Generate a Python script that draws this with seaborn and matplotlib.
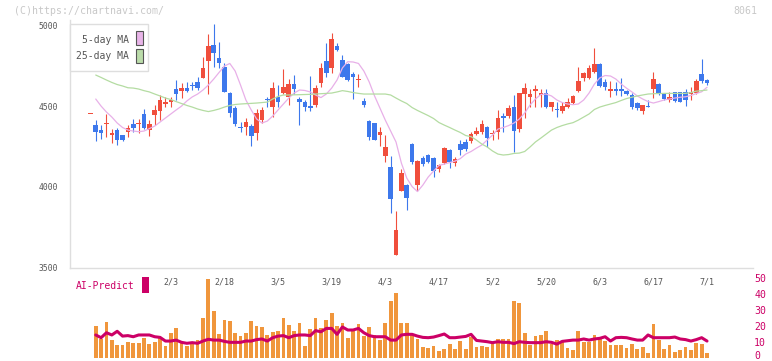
import numpy as np
import pandas as pd
import seaborn as sns
import matplotlib.pyplot as plt
import matplotlib.transforms as mtransforms
from matplotlib.patches import Rectangle

sns.set_style('white')
plt.rcParams['font.family'] = ['DejaVu Sans Mono', 'DejaVu Sans']

# trading-day index, 0 = 2/3
day = np.arange(-15, 101)

open_ = [4453, 4384, 4353, 4392, 4322, 4353, 4322, 4343, 4391, 4392, 4453, 4353, 4447, 4473, 4515,
         4525, 4608, 4596, 4616, 4631, 4654, 4679, 4784, 4882, 4803, 4747, 4585, 4492, 4372, 4370,
         4378, 4337, 4415, 4546, 4498, 4560, 4581, 4560, 4639, 4546, 4525, 4502, 4509, 4647, 4782,
         4737, 4876, 4789, 4764, 4702, 4662, 4534, 4409, 4397, 4322, 4191, 4125, 3576, 3976, 4011,
         4266, 4011, 4177, 4198, 4177, 4109, 4146, 4229, 4146, 4266, 4280, 4287, 4328, 4343, 4374,
         4326, 4343, 4440, 4440, 4498, 4360, 4577, 4560, 4598, 4573, 4585, 4498, 4484, 4473, 4498,
         4523, 4598, 4679, 4679, 4716, 4764, 4654, 4598, 4608, 4608, 4596, 4571, 4519, 4473, 4504,
         4606, 4639, 4581, 4540, 4588, 4588, 4592, 4580, 4581, 4702, 4664]
high = [4453, 4415, 4384, 4453, 4358, 4364, 4325, 4384, 4422, 4422, 4484, 4415, 4509, 4571, 4560,
        4560, 4664, 4643, 4650, 4654, 4685, 4809, 4950, 5012, 4902, 4770, 4590, 4500, 4401, 4430,
        4390, 4482, 4498, 4560, 4654, 4633, 4731, 4668, 4695, 4556, 4540, 4689, 4633, 4768, 4896,
        4959, 4896, 4820, 4770, 4716, 4702, 4550, 4415, 4400, 4374, 4322, 4191, 3849, 4111, 4015,
        4270, 4165, 4190, 4205, 4185, 4140, 4245, 4235, 4185, 4291, 4295, 4340, 4374, 4415, 4380,
        4353, 4478, 4459, 4509, 4571, 4583, 4644, 4606, 4633, 4606, 4606, 4529, 4529, 4529, 4550,
        4570, 4747, 4715, 4758, 4865, 4768, 4670, 4658, 4650, 4675, 4600, 4583, 4525, 4509, 4540,
        4716, 4645, 4585, 4590, 4592, 4592, 4610, 4620, 4668, 4795, 4670]
low = [4453, 4287, 4295, 4312, 4274, 4260, 4288, 4312, 4343, 4333, 4360, 4318, 4384, 4415, 4498,
       4498, 4540, 4550, 4590, 4602, 4602, 4675, 4577, 4747, 4737, 4588, 4436, 4380, 4339, 4322,
       4254, 4291, 4400, 4498, 4436, 4498, 4575, 4509, 4577, 4384, 4473, 4473, 4498, 4623, 4681,
       4706, 4845, 4680, 4655, 4546, 4619, 4498, 4290, 4291, 4256, 4156, 3835, 3576, 3976, 3856,
       4140, 3974, 4129, 4150, 4063, 4090, 4140, 4120, 4130, 4198, 4224, 4270, 4320, 4330, 4249,
       4291, 4300, 4343, 4430, 4218, 4343, 4428, 4498, 4498, 4498, 4490, 4470, 4432, 4460, 4490,
       4515, 4590, 4656, 4670, 4710, 4620, 4600, 4560, 4570, 4565, 4570, 4484, 4480, 4453, 4495,
       4550, 4570, 4540, 4530, 4530, 4525, 4505, 4540, 4575, 4648, 4633]
close = [4453, 4343, 4337, 4398, 4333, 4291, 4291, 4368, 4364, 4398, 4368, 4391, 4478, 4540, 4525,
         4540, 4577, 4616, 4596, 4627, 4616, 4741, 4876, 4834, 4768, 4591, 4457, 4391, 4368, 4405,
         4318, 4461, 4478, 4542, 4616, 4529, 4623, 4639, 4608, 4525, 4494, 4488, 4613, 4741, 4710,
         4919, 4851, 4685, 4664, 4685, 4668, 4509, 4312, 4291, 4341, 4249, 3924, 3731, 4088, 3928,
         4156, 4160, 4140, 4156, 4098, 4135, 4239, 4156, 4171, 4229, 4235, 4326, 4347, 4391, 4301,
         4332, 4430, 4430, 4492, 4349, 4581, 4612, 4577, 4608, 4581, 4498, 4529, 4478, 4502, 4529,
         4565, 4660, 4710, 4737, 4764, 4627, 4623, 4608, 4598, 4598, 4577, 4498, 4488, 4509, 4498,
         4668, 4581, 4546, 4560, 4535, 4529, 4540, 4583, 4658, 4658, 4644]

ma5 = [np.nan, 4546, 4502, 4465, 4434, 4397, 4369, 4353, 4347, 4343, 4347, 4362, 4378, 4403, 4428,
       4453, 4478, 4502, 4534, 4559, 4577, 4602, 4633, 4670, 4711, 4751, 4767, 4720, 4633, 4540,
       4478, 4422, 4397, 4409, 4440, 4478, 4515, 4552, 4583, 4602, 4599, 4590, 4571, 4555, 4577,
       4614, 4664, 4739, 4778, 4776, 4767, 4720, 4652, 4565, 4490, 4415, 4347, 4279, 4148, 4055,
       4002, 3971, 4011, 4061, 4098, 4133, 4142, 4151, 4160, 4176, 4204, 4220, 4241, 4260, 4291,
       4322, 4359, 4369, 4381, 4397, 4422, 4459, 4509, 4546, 4574, 4577, 4565, 4540, 4524, 4515,
       4511, 4515, 4540, 4583, 4639, 4677, 4692, 4689, 4670, 4639, 4613, 4590, 4565, 4546, 4530,
       4521, 4530, 4540, 4546, 4552, 4557, 4560, 4568, 4580, 4591, 4619]
ma25 = [np.nan, 4695, 4680, 4664, 4649, 4636, 4627, 4616, 4614, 4608, 4598, 4590, 4577, 4565, 4552,
        4543, 4530, 4518, 4506, 4496, 4484, 4475, 4468, 4475, 4484, 4496, 4506, 4512, 4515, 4517,
        4519, 4521, 4524, 4527, 4546, 4562, 4571, 4571, 4572, 4573, 4574, 4575, 4577, 4579, 4581,
        4583, 4590, 4598, 4593, 4586, 4581, 4577, 4577, 4577, 4577, 4577, 4571, 4552, 4534, 4518,
        4493, 4475, 4459, 4443, 4425, 4400, 4384, 4369, 4353, 4338, 4319, 4312, 4291, 4266, 4248,
        4223, 4204, 4198, 4201, 4208, 4210, 4220, 4248, 4279, 4303, 4328, 4353, 4369, 4381, 4391,
        4399, 4415, 4434, 4453, 4481, 4496, 4506, 4515, 4524, 4537, 4549, 4557, 4565, 4571, 4577,
        4579, 4580, 4581, 4581, 4581, 4581, 4581, 4586, 4595, 4598, 4602]

volume = [np.nan, 19.8, 11.7, 22.3, 11.0, 7.9, 7.9, 9.8, 9.2, 9.2, 12.3, 8.5, 9.8, 12.3, 7.3,
          15.4, 18.8, 10.4, 7.3, 9.4, 11.0, 25.0, 49.2, 29.4, 14.8, 23.8, 22.9, 15.4, 13.5, 15.4,
          22.9, 19.8, 19.2, 14.2, 16.0, 16.7, 25.0, 20.4, 16.7, 21.7, 7.3, 17.9, 24.8, 18.5, 23.5,
          27.9, 19.8, 21.7, 12.3, 16.7, 21.0, 13.5, 19.2, 14.2, 11.0, 21.7, 35.4, 40.4, 21.7, 21.7,
          14.2, 11.7, 6.7, 6.0, 7.3, 4.2, 5.4, 8.5, 5.4, 10.4, 5.4, 12.9, 6.7, 7.3, 6.7,
          8.3, 11.7, 11.7, 11.7, 35.4, 34.2, 15.4, 7.9, 13.5, 14.2, 16.7, 8.5, 11.0, 10.0, 6.0,
          4.8, 16.7, 9.8, 9.6, 14.2, 12.9, 10.4, 7.9, 7.9, 7.9, 6.0, 8.5, 5.4, 6.7, 2.9,
          21.0, 11.0, 5.4, 7.9, 3.5, 4.8, 6.7, 4.8, 9.2, 8.5, 2.9]
ai_predict = [np.nan, 14.2, 12.5, 15.6, 14.2, 16.5, 13.5, 13.8, 13.1, 14.2, 14.2, 14.2, 13.1, 12.7, 10.4,
              10.4, 11.0, 9.6, 9.0, 9.4, 9.0, 10.4, 11.5, 11.0, 11.0, 10.2, 9.6, 9.6, 9.6, 10.4,
              10.4, 11.3, 11.7, 10.4, 12.5, 13.5, 13.8, 12.5, 13.8, 14.2, 14.2, 13.8, 16.9, 16.2, 18.3,
              18.3, 14.6, 19.2, 17.3, 17.3, 18.3, 15.6, 13.8, 13.1, 13.1, 13.1, 11.0, 11.0, 14.2, 14.6,
              14.6, 13.5, 12.7, 12.5, 12.9, 13.8, 14.8, 12.5, 12.5, 12.9, 13.3, 14.6, 10.8, 10.4, 10.0,
              9.4, 10.0, 9.6, 9.6, 8.8, 10.0, 9.6, 9.4, 9.4, 9.4, 10.0, 9.6, 8.5, 10.2, 10.6,
              11.0, 11.0, 11.7, 11.0, 11.7, 12.1, 13.1, 10.4, 12.5, 12.7, 12.5, 11.7, 11.0, 11.0, 14.2,
              12.5, 12.5, 12.5, 12.5, 12.9, 11.7, 11.3, 10.4, 11.3, 12.5, 10.4]

label_pos = [0, 10, 20, 30, 40, 50, 60, 70, 80, 90, 100]
label_txt = ['2/3', '2/18', '3/5', '3/19', '4/3', '4/17', '5/2', '5/20', '6/3', '6/17', '7/1']

df = pd.DataFrame({'day': day, 'open': open_, 'high': high, 'low': low, 'close': close,
                   'ma5': ma5, 'ma25': ma25, 'volume': volume, 'ai': ai_predict})

RED = '#f04e3c'
BLUE = '#3d78ec'
TXT = '#555555'
MAG = '#cc0066'
GRID = '#dedede'
W, H = 772, 361
XLIM = (-18.80, 108.52)


def fig_xy(x, y):
    return x / W, 1 - y / H


fig = plt.figure(figsize=(W / 100, H / 100), dpi=100)
ax = fig.add_axes([70 / W, 1 - 268 / H, 682.7 / W, 248 / H])
ax2 = fig.add_axes([70 / W, 1 - 358.5 / H, 682.7 / W, 88.5 / H])

# candles
up = df['close'] >= df['open']
colors = np.where(up, RED, BLUE)
body_low = np.minimum(df['open'], df['close'])
body_h = np.maximum((df['close'] - df['open']).abs(), 7)
ax.vlines(df['day'], df['low'], df['high'], colors=colors, lw=0.8, zorder=2)
ax.bar(df['day'], body_h, bottom=body_low, width=0.85, color=colors, lw=0, zorder=3)

sns.lineplot(data=df, x='day', y='ma5', ax=ax, color='#e8b0e8', lw=0.9, zorder=4)
sns.lineplot(data=df, x='day', y='ma25', ax=ax, color='#b4dca2', lw=0.9, zorder=4)

ax.set_xlim(*XLIM)
ax.set_ylim(3496, 5037)
ax.set_xlabel('')
ax.set_ylabel('')
ax.set_xticks(np.linspace(XLIM[0], XLIM[1], 12))
ax.set_xticklabels([])
ax.set_yticks([3500, 4000, 4500, 5000])
ax.tick_params(axis='x', direction='in', length=3, width=1, color=GRID)
ax.tick_params(axis='y', direction='inout', length=5.8, width=1, color=GRID,
               labelsize=5.8, labelcolor=TXT, pad=5.8)
for s in ['top', 'right']:
    ax.spines[s].set_visible(False)
for s in ['left', 'bottom']:
    ax.spines[s].set_color(GRID)
    ax.spines[s].set_linewidth(1.0)

# volume + AI-Predict panel
ax2.bar(df['day'], df['volume'], width=0.7, color='#f0963c', lw=0, zorder=2)
sns.lineplot(data=df, x='day', y='ai', ax=ax2, color=MAG, lw=2.2, zorder=3)
ax2.set_xlim(*XLIM)
ax2.set_ylim(-0.5, 54.8)
ax2.set_xlabel('')
ax2.set_ylabel('')
ax2.set_xticks([])
ax2.yaxis.tick_right()
ax2.set_yticks([0, 10, 20, 30, 40, 50])
ax2.tick_params(axis='y', length=0, pad=1, labelsize=7.1, labelcolor=MAG)
for s in ax2.spines.values():
    s.set_visible(False)
ax2.patch.set_alpha(0)
fig.canvas.draw()
zero_lbl = ax2.get_yticklabels()[0]
zero_lbl.set_verticalalignment('baseline')
zero_lbl.set_transform(zero_lbl.get_transform() +
                       mtransforms.ScaledTranslation(0, -0.6 / 72, fig.dpi_scale_trans))
for p, t in zip(label_pos, label_txt):
    ax2.text(p, 47.3, t, ha='center', va='center', fontsize=6, color=TXT)

# legend box
fig.add_artist(Rectangle(fig_xy(70, 71), 78 / W, 47 / H, transform=fig.transFigure,
                         facecolor='white', edgecolor=GRID, lw=1, zorder=5))
for (name, col, ty, sy) in [('5-day MA', '#e8b4e8', 40, 45), ('25-day MA', '#bbdcaa', 56, 62.5)]:
    fig.text(*fig_xy(129, ty), name, ha='right', va='center', fontsize=7, color=TXT, zorder=6)
    fig.add_artist(Rectangle(fig_xy(136, sy), 6.5 / W, 14 / H, transform=fig.transFigure,
                             facecolor=col, edgecolor='#555555', lw=0.8, zorder=6))

fig.text(*fig_xy(76, 286), 'AI-Predict', ha='left', va='center', fontsize=7, color=MAG)
fig.add_artist(Rectangle(fig_xy(142, 293), 7 / W, 16 / H, transform=fig.transFigure,
                         facecolor=MAG, edgecolor='none'))

fig.text(*fig_xy(14, 10.5), '(C)https://chartnavi.com/', ha='left', va='center',
         fontsize=7.1, color='#c8c8c8')
fig.text(*fig_xy(757, 10.5), '8061', ha='right', va='center', fontsize=7.1, color='#c8c8c8')

fig.savefig('out.png', dpi=100)
